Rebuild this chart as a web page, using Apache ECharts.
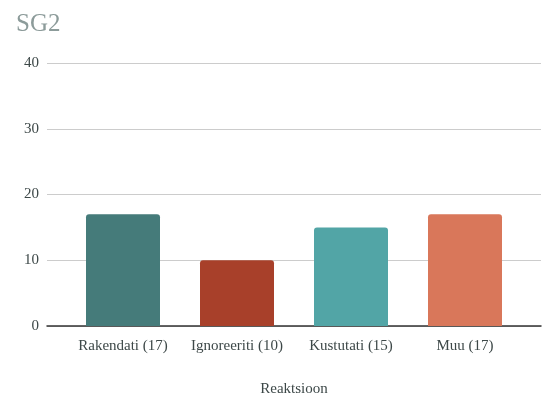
<!DOCTYPE html>
<html><head><meta charset="utf-8">
<script src="https://cdn.jsdelivr.net/npm/echarts@6/dist/echarts.min.js"></script>
<style>html,body{margin:0;padding:0;background:#fff}#c{width:542px;height:400px}</style>
</head><body><div id="c"></div>
<script>
const categories = ["Rakendati (17)", "Ignoreeriti (10)", "Kustutati (15)", "Muu (17)"];
const values = [17, 10, 15, 17];
const colors = ["#457b7a", "#a8402a", "#52a5a6", "#d9775a"];
const yTicks = [0, 10, 20, 30, 40];
const titleText = "SG2";
const xName = "Reaktsioon";

const font = "'Liberation Serif', 'DejaVu Serif', serif";
const chart = echarts.init(document.getElementById('c'));
chart.setOption({
  animation: false,
  title: { text: titleText, left: 11, top: 7, textStyle: { fontFamily: font, fontSize: 25, fontWeight: 'normal', color: '#8c9b9a' } },
  grid: [
    { left: 47, right: 1, top: 63, bottom: 74, outerBoundsMode: 'none', containLabel: false },
    { left: 66, right: 20, top: 63, bottom: 74, outerBoundsMode: 'none', containLabel: false }
  ],
  xAxis: [
    { gridIndex: 0, type: 'category', data: [''], axisTick: { show: false }, axisLabel: { show: false },
      axisLine: { lineStyle: { color: '#333', width: 1.5 } },
      name: xName, nameLocation: 'middle', nameGap: 56,
      nameTextStyle: { fontFamily: font, fontSize: 15, color: '#3d4848' } },
    { gridIndex: 1, type: 'category', data: categories, axisTick: { show: false }, axisLine: { show: false },
      axisLabel: { interval: 0, fontFamily: font, fontSize: 15, color: '#3d4848', margin: 13 } }
  ],
  yAxis: [
    { gridIndex: 0, type: 'value', min: yTicks[0], max: yTicks[yTicks.length - 1], interval: 10,
      axisLabel: { fontFamily: font, fontSize: 15, color: '#3d4848', margin: 8 },
      axisLine: { show: false }, axisTick: { show: false },
      splitLine: { lineStyle: { color: '#cccccc', width: 1 } } },
    { gridIndex: 1, type: 'value', min: yTicks[0], max: yTicks[yTicks.length - 1], interval: 10, show: false, splitLine: { show: false } }
  ],
  series: [{
    type: 'bar', xAxisIndex: 1, yAxisIndex: 1, barWidth: 74,
    data: values.map((v, i) => ({ value: v, itemStyle: { color: colors[i], borderRadius: [3, 3, 0, 0] } }))
  }]
});
</script></body></html>
